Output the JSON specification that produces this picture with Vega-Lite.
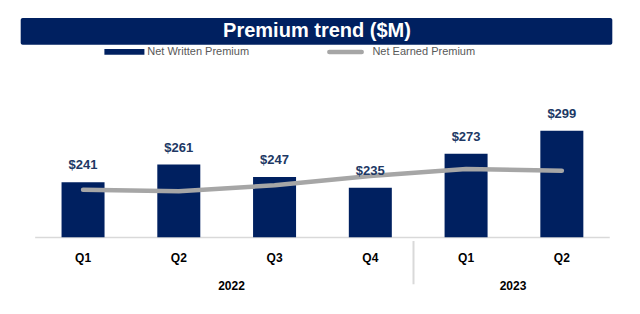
{
  "$schema": "https://vega.github.io/schema/vega-lite/v6.json",
  "width": 640,
  "height": 314,
  "autosize": {"type": "none"},
  "padding": 0,
  "background": "white",
  "config": {"view": {"stroke": null}, "font": "Liberation Sans"},
  "datasets": {
    "quarters": [
      {"i": 0, "quarter": "Q1", "year": "2022", "nwp": 241, "nep": 232.7},
      {"i": 1, "quarter": "Q2", "year": "2022", "nwp": 261, "nep": 230.9},
      {"i": 2, "quarter": "Q3", "year": "2022", "nwp": 247, "nep": 237.6},
      {"i": 3, "quarter": "Q4", "year": "2022", "nwp": 235, "nep": 248.1},
      {"i": 4, "quarter": "Q1", "year": "2023", "nwp": 273, "nep": 256.0},
      {"i": 5, "quarter": "Q2", "year": "2023", "nwp": 299, "nep": 254.1}
    ],
    "years": [
      {"year": "2022", "pos": 1.55},
      {"year": "2023", "pos": 4.49}
    ]
  },
  "layer": [
    {
      "data": {"values": [{"title": "Premium trend ($M)"}]},
      "mark": {"type": "rect", "fill": "#002060", "cornerRadius": 2},
      "encoding": {
        "x": {"datum": -0.651, "type": "quantitative", "scale": {"domain": [-0.815, 5.764], "nice": false, "zero": false}, "axis": null},
        "x2": {"datum": 5.527},
        "y": {"datum": 425.6, "type": "quantitative", "scale": {"domain": [93.0, 445.9], "nice": false, "zero": false}, "axis": null},
        "y2": {"datum": 395.7}
      }
    },
    {
      "data": {"values": [{"title": "Premium trend ($M)"}]},
      "mark": {"type": "text", "fill": "white", "fontWeight": "bold", "fontSize": 20, "align": "center", "baseline": "middle"},
      "encoding": {
        "x": {"datum": 2.443, "type": "quantitative"},
        "y": {"datum": 410.5, "type": "quantitative"},
        "text": {"field": "title"}
      }
    },
    {
      "data": {"values": [{"label": "Net Written Premium"}]},
      "mark": {"type": "rect", "fill": "#002060"},
      "encoding": {
        "x": {"datum": 0.223, "type": "quantitative"},
        "x2": {"datum": 0.641},
        "y": {"datum": 390.8, "type": "quantitative"},
        "y2": {"datum": 384.4}
      }
    },
    {
      "data": {"values": [{"label": "Net Written Premium"}]},
      "mark": {"type": "text", "fill": "#595959", "fontSize": 11, "align": "left", "baseline": "middle"},
      "encoding": {
        "x": {"datum": 0.67, "type": "quantitative"},
        "y": {"datum": 387.5, "type": "quantitative"},
        "text": {"field": "label"}
      }
    },
    {
      "data": {"values": [{"label": "Net Earned Premium"}]},
      "mark": {"type": "rule", "stroke": "#a6a6a6", "strokeWidth": 4.5, "strokeCap": "round"},
      "encoding": {
        "x": {"datum": 2.572, "type": "quantitative"},
        "x2": {"datum": 2.91},
        "y": {"datum": 387.5, "type": "quantitative"}
      }
    },
    {
      "data": {"values": [{"label": "Net Earned Premium"}]},
      "mark": {"type": "text", "fill": "#595959", "fontSize": 11, "align": "left", "baseline": "middle"},
      "encoding": {
        "x": {"datum": 3.022, "type": "quantitative"},
        "y": {"datum": 387.5, "type": "quantitative"},
        "text": {"field": "label"}
      }
    },
    {
      "data": {"values": [{}]},
      "mark": {"type": "rule", "stroke": "#d9d9d9", "strokeWidth": 1.5},
      "encoding": {
        "x": {"datum": -0.5, "type": "quantitative"},
        "x2": {"datum": 5.5},
        "y": {"datum": 179.0, "type": "quantitative"}
      }
    },
    {
      "data": {"values": [{}]},
      "mark": {"type": "rule", "stroke": "#d9d9d9", "strokeWidth": 2},
      "encoding": {
        "x": {"datum": 3.451, "type": "quantitative"},
        "y": {"datum": 175.0, "type": "quantitative"},
        "y2": {"datum": 126.4}
      }
    },
    {
      "data": {"name": "quarters"},
      "mark": {"type": "bar", "fill": "#002060", "size": 43},
      "encoding": {
        "x": {"field": "i", "type": "quantitative"},
        "y": {"field": "nwp", "type": "quantitative"},
        "y2": {"datum": 179.2}
      }
    },
    {
      "data": {"name": "quarters"},
      "mark": {"type": "line", "stroke": "#a6a6a6", "strokeWidth": 4.5, "strokeCap": "round", "strokeJoin": "round"},
      "encoding": {
        "x": {"field": "i", "type": "quantitative"},
        "y": {"field": "nep", "type": "quantitative"}
      }
    },
    {
      "data": {"name": "quarters"},
      "mark": {"type": "text", "fill": "#203864", "fontWeight": "bold", "fontSize": 13, "align": "center", "baseline": "middle", "dy": -17},
      "encoding": {
        "x": {"field": "i", "type": "quantitative"},
        "y": {"field": "nwp", "type": "quantitative"},
        "text": {"field": "nwp", "type": "quantitative", "format": "$,.0f"}
      }
    },
    {
      "data": {"name": "quarters"},
      "mark": {"type": "text", "fill": "#000000", "fontWeight": "bold", "fontSize": 12, "align": "center", "baseline": "middle"},
      "encoding": {
        "x": {"field": "i", "type": "quantitative"},
        "y": {"datum": 155.9, "type": "quantitative"},
        "text": {"field": "quarter"}
      }
    },
    {
      "data": {"name": "years"},
      "mark": {"type": "text", "fill": "#000000", "fontWeight": "bold", "fontSize": 12, "align": "center", "baseline": "middle"},
      "encoding": {
        "x": {"field": "pos", "type": "quantitative"},
        "y": {"datum": 124.8, "type": "quantitative"},
        "text": {"field": "year"}
      }
    }
  ]
}
